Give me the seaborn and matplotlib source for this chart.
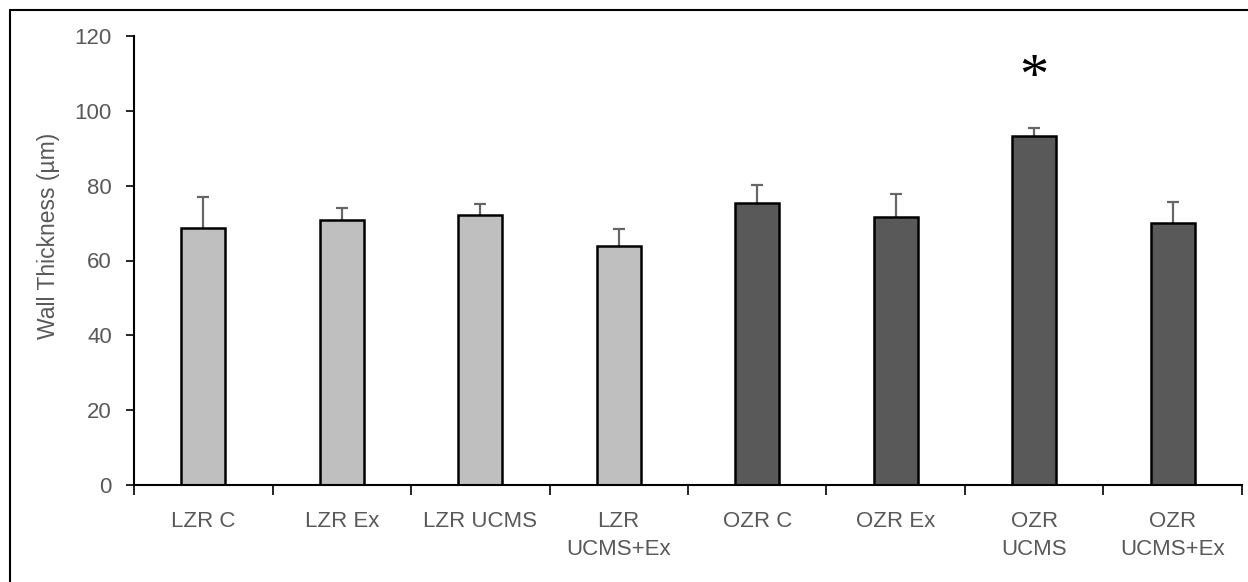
import matplotlib
matplotlib.use("Agg")
import matplotlib.pyplot as plt
from matplotlib.lines import Line2D
import seaborn as sns
import pandas as pd
import numpy as np

categories = ["LZR C", "LZR Ex", "LZR UCMS", "LZR\nUCMS+Ex",
              "OZR C", "OZR Ex", "OZR\nUCMS", "OZR\nUCMS+Ex"]
groups = ["LZR", "LZR", "LZR", "LZR", "OZR", "OZR", "OZR", "OZR"]
means = [68.6, 70.8, 72.2, 63.8, 75.3, 71.7, 93.4, 70.1]
errors = [8.5, 3.2, 3.0, 4.6, 5.0, 6.1, 1.9, 5.6]
yticks = [0, 20, 40, 60, 80, 100, 120]
star_label = "*"
star_category = "OZR\nUCMS"
star_y = 108.5

sns.set_theme(style="white")
plt.rcParams["font.family"] = ["Liberation Sans", "DejaVu Sans"]

df = pd.DataFrame({"category": categories, "value": means, "group": groups})

fig = plt.figure(figsize=(12.48, 5.82), dpi=100)
ax = fig.add_axes([134/1248, 1 - 485/582, (1242 - 134)/1248, (485 - 36)/582])

sns.barplot(data=df, x="category", y="value", hue="group",
            palette={"LZR": "#BFBFBF", "OZR": "#595959"},
            dodge=False, width=0.32, edgecolor="black", linewidth=1.8,
            legend=False, ax=ax, errorbar=None, zorder=2)

x = np.arange(len(categories))
eb = ax.errorbar(x, means, yerr=[np.zeros(len(errors)), errors], fmt="none",
                 ecolor="#666666", elinewidth=1.6, capsize=4.3, capthick=1.6, zorder=1)
caps = eb[1]
if len(caps) >= 2:
    caps[0].set_visible(False)

ax.set_ylim(0, 120)
ax.set_xlim(-0.5, len(categories) - 0.5)
ax.set_yticks(yticks)
ax.set_yticklabels([str(t) for t in yticks])
ax.set_xticks(x)
ax.set_xticklabels(categories)
ax.set_xticks(np.arange(-0.5, len(categories), 1.0), minor=True)

text_color = "#595959"
fs = 16
ax.tick_params(axis="y", which="major", direction="out", length=6, width=1.2,
               color="black", labelsize=fs, labelcolor=text_color, pad=10, left=True)
ax.tick_params(axis="x", which="major", length=0, labelsize=fs,
               labelcolor=text_color, pad=19)
ax.tick_params(axis="x", which="minor", direction="out", length=7, width=1.2,
               color="black", bottom=True)

for lab in ax.get_xticklabels():
    lab.set_linespacing(1.4)
    lab.set_verticalalignment("top")

ax.set_xlabel("")
ax.set_ylabel("Wall Thickness (µm)", fontsize=fs + 0.5, color=text_color)
ax.yaxis.set_label_coords(-0.067, 0.555)

for side in ["top", "right"]:
    ax.spines[side].set_visible(False)
for side in ["left", "bottom"]:
    ax.spines[side].set_color("black")
    ax.spines[side].set_linewidth(1.5)

ax.text(categories.index(star_category), star_y, star_label, ha="center", va="center",
        fontsize=42, family="Liberation Serif", color="black")

# outer frame
fig.add_artist(Line2D([10/1248, 1.0], [1 - 10/582, 1 - 10/582], transform=fig.transFigure,
                      color="black", linewidth=1.5))
fig.add_artist(Line2D([10/1248, 10/1248], [0.0, 1 - 10/582], transform=fig.transFigure,
                      color="black", linewidth=1.5))

fig.savefig("out.png", dpi=100, facecolor="white")
